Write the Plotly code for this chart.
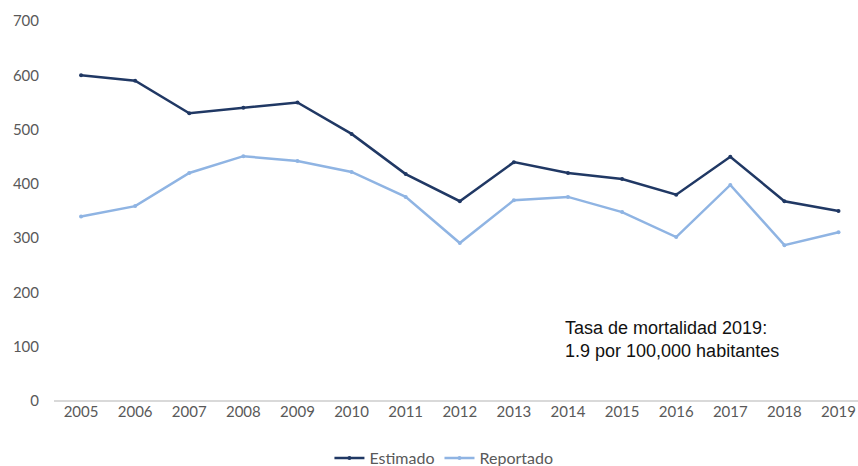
import plotly.graph_objects as go

years = ['2005', '2006', '2007', '2008', '2009', '2010', '2011', '2012',
         '2013', '2014', '2015', '2016', '2017', '2018', '2019']
estimado = [600, 590, 530, 540, 550, 492, 418, 368, 440, 420, 409, 380, 450, 368, 350]
reportado = [340, 359, 420, 451, 442, 422, 376, 291, 370, 376, 348, 302, 398, 287, 311]
y_ticks = [0, 100, 200, 300, 400, 500, 600, 700]

tick_font = dict(family='Lato, "Open Sans", sans-serif', size=15, color='#595959')

fig = go.Figure()
fig.add_trace(go.Scatter(x=years, y=estimado, name='Estimado',
        mode='lines+markers',
        line=dict(color='#203864', width=2.5),
        marker=dict(color='#203864', size=4)))
fig.add_trace(go.Scatter(x=years, y=reportado, name='Reportado',
        mode='lines+markers',
        line=dict(color='#8fb4e3', width=2.5),
        marker=dict(color='#8fb4e3', size=4)))

fig.add_annotation(text='Tasa de mortalidad 2019:<br>1.9 por 100,000 habitantes',
        xref='paper', yref='paper', x=0.633, y=0.163,
        xanchor='left', yanchor='middle', align='left', showarrow=False,
        font=dict(family='"Liberation Sans", Arial, sans-serif', size=18, color='#111111'))

fig.update_layout(
    width=858, height=466,
    paper_bgcolor='white', plot_bgcolor='white',
    margin=dict(l=54, r=0, t=21, b=65, autoexpand=False),
    showlegend=True,
    legend=dict(orientation='h', x=0.485, xanchor='center', y=-0.15, yanchor='middle',
                font=dict(family='Lato, "Open Sans", sans-serif', size=16, color='#595959'),
                itemwidth=30, tracegroupgap=0),
)
fig.update_xaxes(type='category', range=[-0.5, 14.36], showgrid=False, automargin=False,
                 showline=False, ticks='', tickfont=tick_font)
fig.update_yaxes(range=[0, 700], tickvals=y_ticks, showgrid=False, automargin=False,
                 zeroline=True, zerolinecolor='#d9d9d9', zerolinewidth=1.5,
                 tickfont=tick_font, ticklabelstandoff=14)

# the page's default body margin shifts the figure by 8px
fig.write_html('out.html', config={'displayModeBar': False},
               post_script="document.body.style.margin='0';document.body.style.overflow='hidden';")
